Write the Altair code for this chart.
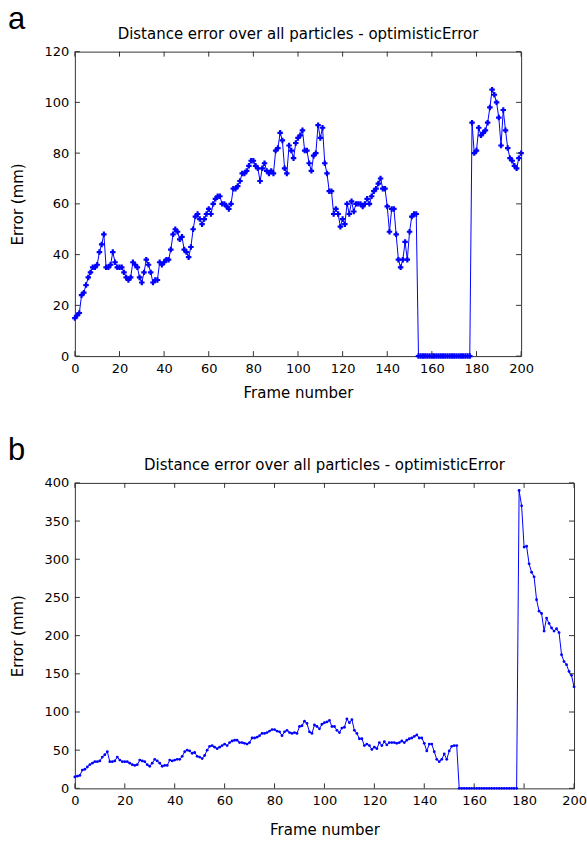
import altair as alt
import pandas as pd

frames = list(range(201))

err_a = [
    15, 16, 17, 24, 25, 28, 31, 33, 35, 35,
    36, 41, 44, 48, 35, 35, 36, 41, 37, 35,
    35, 35, 33, 31, 30, 31, 37, 36, 35, 31,
    29, 33, 38, 36, 33, 29, 30, 30, 37, 36,
    37, 38, 38, 42, 48, 50, 49, 46, 47, 42,
    41, 39, 43, 50, 55, 56, 54, 52, 54, 56,
    58, 56, 60, 62, 63, 63, 60, 60, 59, 58,
    60, 66, 66, 67, 69, 72, 72, 73, 75, 77,
    77, 75, 74, 69, 74, 76, 73, 72, 73, 72,
    81, 82, 88, 85, 74, 72, 83, 81, 78, 84,
    86, 87, 89, 81, 81, 76, 73, 79, 80, 91,
    86, 90, 76, 72, 65, 65, 56, 58, 56, 51,
    54, 52, 60, 56, 61, 57, 60, 60, 60, 59,
    60, 62, 60, 63, 65, 66, 68, 70, 66, 66,
    59, 49, 58, 58, 48, 38, 35, 38, 45, 38,
    49, 55, 56, 56,
    0, 0, 0, 0, 0, 0, 0, 0, 0, 0, 0, 0,
    0, 0, 0, 0, 0, 0, 0, 0, 0, 0, 0, 0,
    92, 80, 81, 90, 87, 88, 89, 92, 98, 105,
    103, 100, 94, 83, 97, 89, 82, 78, 77, 75,
    74, 78, 80,
]

err_b_tail = [
    390, 370, 316, 317, 294, 283, 277, 247, 232, 229,
    206, 223, 216, 210, 206, 209, 204, 175, 166, 162,
    153, 148, 133,
]
err_b = err_a[:178] + err_b_tail

x_ticks = list(range(0, 201, 20))
y_ticks_a = list(range(0, 121, 20))
y_ticks_b = list(range(0, 401, 50))

TITLE = "Distance error over all particles - optimisticError"
FONT = "DejaVu Sans"
BLUE = "#0000ff"
FRAME = "#333333"


def panel(values, ymax, yticks, W, H, letter, shape, msize, xtitle_y):
    df = pd.DataFrame({"frame": frames, "err": values})
    xs = alt.Scale(domain=[0, 200], nice=False, zero=False, padding=0)
    ys = alt.Scale(domain=[0, ymax], nice=False, padding=0)
    xaxis = alt.Axis(
        values=x_ticks, title="Frame number", ticks=False, domain=False,
        grid=False, labelFont=FONT, labelFontSize=13, labelColor="black",
        labelPadding=6, labelFlush=False, labelOverlap=False,
        titleFont=FONT, titleFontSize=15,
        titleFontWeight="normal", titleColor="black",
        titleY=xtitle_y, titleBaseline="alphabetic")
    yaxis = alt.Axis(
        values=yticks, title="Error (mm)", ticks=False, domain=False,
        grid=False, labelFont=FONT, labelFontSize=13, labelColor="black",
        labelPadding=6, labelFlush=False, labelOverlap=False,
        titleFont=FONT, titleFontSize=15,
        titleFontWeight="normal", titleColor="black",
        titleX=-52, titleY=H / 2, titleAngle=-90, titleAlign="center",
        titleBaseline="alphabetic")
    base = alt.Chart(df).encode(
        x=alt.X("frame:Q", scale=xs, axis=xaxis),
        y=alt.Y("err:Q", scale=ys, axis=yaxis),
    )
    line = base.mark_line(color=BLUE, strokeWidth=1)
    pts = base.mark_point(shape=shape, filled=True, color=BLUE, size=msize,
                          opacity=1)
    xt = alt.Chart(pd.DataFrame({"frame": x_ticks}))
    yt = alt.Chart(pd.DataFrame({"err": yticks}))
    tb = xt.mark_rule(color=FRAME, strokeWidth=1).encode(
        x=alt.X("frame:Q", scale=xs, axis=xaxis), y=alt.value(H), y2=alt.value(H - 5))
    tt = xt.mark_rule(color=FRAME, strokeWidth=1).encode(
        x=alt.X("frame:Q", scale=xs, axis=xaxis), y=alt.value(0), y2=alt.value(5))
    tl = yt.mark_rule(color=FRAME, strokeWidth=1).encode(
        y=alt.Y("err:Q", scale=ys, axis=yaxis), x=alt.value(0), x2=alt.value(5))
    tr = yt.mark_rule(color=FRAME, strokeWidth=1).encode(
        y=alt.Y("err:Q", scale=ys, axis=yaxis), x=alt.value(W), x2=alt.value(W - 5))
    lab = alt.Chart(pd.DataFrame({"l": [letter]})).mark_text(
        font="Liberation Sans", fontSize=31, align="left",
        baseline="alphabetic", color="black").encode(
        text="l:N", x=alt.value(-67), y=alt.value(-23))
    ttl = alt.Chart(pd.DataFrame({"l": [TITLE]})).mark_text(
        font=FONT, fontSize=15, align="center",
        baseline="alphabetic", color="black").encode(
        text="l:N", x=alt.value(W / 2), y=alt.value(-13))
    return alt.layer(line, pts, tb, tt, tl, tr, lab, ttl).properties(
        width=W, height=H)


pa = panel(err_a, 120, y_ticks_a, 447, 305, "a", "cross", 30, 41)
pb = panel(err_b, 400, y_ticks_b, 500, 306, "b", "circle", 8, 46)

chart = alt.vconcat(pa, pb, spacing=33).properties(
    padding={"left": 7, "top": 2, "right": 0, "bottom": 0},
    background="white",
).configure_view(stroke=FRAME, strokeWidth=1)

chart.save("out.html", embed_options={"renderer": "svg", "actions": False})
